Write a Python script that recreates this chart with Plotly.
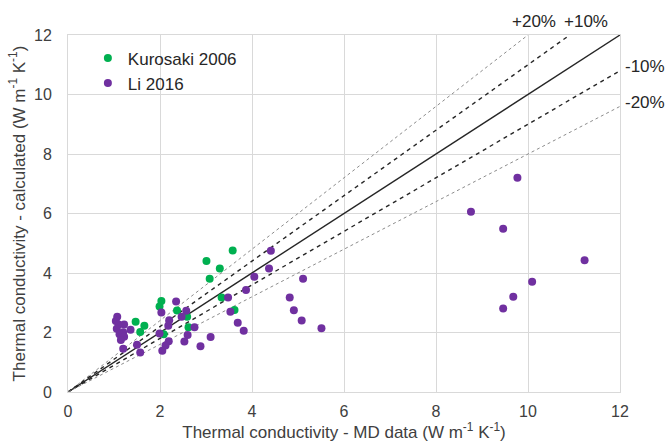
import plotly.graph_objects as go

# Kurosaki 2006 (green)
kuro_x = [3.58, 3.01, 3.30, 3.08, 3.34, 3.62, 2.03, 1.99, 2.37, 2.59, 2.62, 1.47, 1.66, 1.57, 2.08]
kuro_y = [4.76, 4.40, 4.15, 3.81, 3.18, 2.76, 3.06, 2.87, 2.74, 2.53, 2.18, 2.36, 2.23, 2.02, 1.94]

# Li 2016 (purple)
li_x = [2.35, 2.03, 2.57, 2.47, 2.20, 2.18, 2.75, 2.60, 1.99, 2.19, 2.53, 2.12, 2.05, 3.10, 2.88,
        4.05, 3.87, 3.48, 3.53, 3.69, 3.82, 4.41, 4.37, 5.11, 4.82, 4.91, 5.08, 5.51,
        1.07, 1.04, 1.22, 1.10, 1.06, 1.36, 1.20, 1.12, 1.22, 1.15, 1.20, 1.50, 1.57,
        9.77, 8.76, 9.46, 11.23, 10.09, 9.68, 9.46]
li_y = [3.04, 2.67, 2.73, 2.53, 2.41, 2.23, 2.18, 1.92, 1.97, 1.71, 1.70, 1.56, 1.39, 1.85, 1.54,
        3.87, 3.43, 3.18, 2.70, 2.33, 2.06, 4.75, 4.15, 3.81, 3.18, 2.75, 2.40, 2.14,
        2.53, 2.39, 2.27, 2.27, 2.13, 2.09, 2.01, 1.94, 1.86, 1.75, 1.45, 1.59, 1.33,
        7.20, 6.06, 5.49, 4.43, 3.71, 3.20, 2.81]

# reference lines: ratio of calculated to MD
ratios = [1.2, 1.1, 1.0, 0.9, 0.8]
ratio_labels = ["+20%", "+10%", "", "-10%", "-20%"]
axis_max = 12
ticks = [0, 2, 4, 6, 8, 10, 12]

FONT = "Liberation Sans"
TXT = "#404040"

fig = go.Figure()

styles = {
    1.2: dict(color="#8c8c8c", width=1, dash="dot"),
    1.1: dict(color="#262626", width=1.4, dash="4px,4px"),
    1.0: dict(color="#262626", width=1.4, dash="solid"),
    0.9: dict(color="#262626", width=1.4, dash="4px,4px"),
    0.8: dict(color="#8c8c8c", width=1, dash="dot"),
}
for r in ratios:
    xe = min(axis_max, axis_max / r)
    fig.add_trace(go.Scatter(x=[0, xe], y=[0, r * xe], mode="lines",
                             line=styles[r], showlegend=False, hoverinfo="skip"))

fig.add_trace(go.Scatter(x=kuro_x, y=kuro_y, mode="markers", name="Kurosaki 2006",
                         marker=dict(color="#00b050", size=8)))
fig.add_trace(go.Scatter(x=li_x, y=li_y, mode="markers", name="Li 2016",
                         marker=dict(color="#7030a0", size=8)))

# percentage labels (paper coordinates, outside the plot area)
label_pos = {"+20%": (0.844, 1.037), "+10%": (0.938, 1.037), "-10%": (1.045, 0.913), "-20%": (1.045, 0.812)}
for lab in ratio_labels:
    if lab:
        x, y = label_pos[lab]
        fig.add_annotation(x=x, y=y, xref="paper", yref="paper", text=lab, showarrow=False,
                           xanchor="center", yanchor="middle",
                           font=dict(family=FONT, size=17, color="#262626"))

axis_common = dict(range=[0, axis_max], tickvals=ticks, showgrid=True, gridcolor="#d9d9d9",
                   gridwidth=1, zeroline=False, showline=True, linecolor="#d9d9d9", mirror=True,
                   tickfont=dict(family=FONT, size=16, color=TXT), fixedrange=True)

fig.update_layout(
    width=672, height=446,
    margin=dict(l=68, r=52, t=35, b=54),
    paper_bgcolor="white", plot_bgcolor="white",
    xaxis=dict(**axis_common, ticks="outside", ticklen=5, tickcolor="rgba(0,0,0,0)",
               automargin=False,
               title=dict(text="Thermal conductivity - MD data (W m<sup>-1</sup> K<sup>-1</sup>)",
                          font=dict(family=FONT, size=17, color=TXT), standoff=3)),
    yaxis=dict(**axis_common, ticks="outside", ticklen=12, tickcolor="rgba(0,0,0,0)",
               title=dict(text="Thermal conductivity - calculated (W m<sup>-1</sup> K<sup>-1</sup>)",
                          font=dict(family=FONT, size=17, color=TXT), standoff=4)),
    legend=dict(x=0.036, y=0.985, xanchor="left", yanchor="top", bgcolor="rgba(0,0,0,0)",
                font=dict(family=FONT, size=17, color="#262626"), itemsizing="trace",
                tracegroupgap=0),
    showlegend=True,
)

fig.write_html("out.html")
